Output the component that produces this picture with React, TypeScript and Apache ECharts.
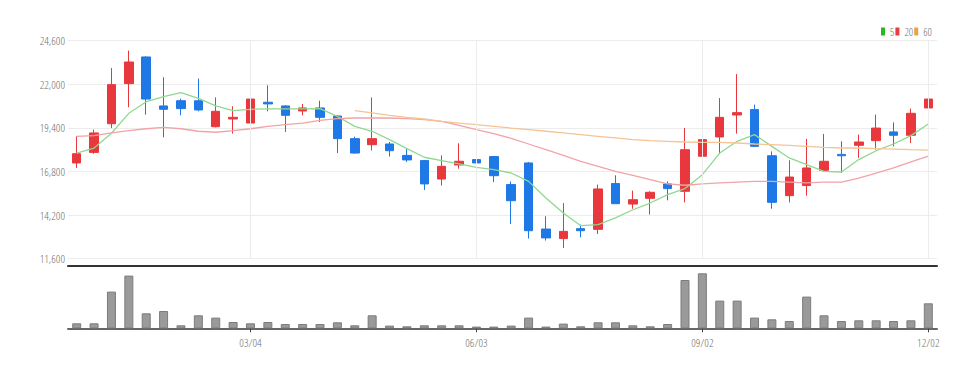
import React, { useEffect, useRef } from "react";
import * as echarts from "echarts";

const dates = [
  "12/25", "01/01", "01/08", "01/15", "01/22", "01/29", "02/05", "02/12", "02/19", "02/26",
  "03/04", "03/11", "03/18", "03/25", "04/01", "04/08", "04/15", "04/22", "04/29", "05/06",
  "05/13", "05/20", "05/27", "06/03", "06/10", "06/17", "06/24", "07/01", "07/08", "07/15",
  "07/22", "07/29", "08/05", "08/12", "08/19", "08/26", "09/02", "09/09", "09/16", "09/23",
  "09/30", "10/07", "10/14", "10/21", "10/28", "11/04", "11/11", "11/18", "11/25", "12/02",
];

// [open, close, low, high]
const candles = [
  [17310, 17860, 17010, 18900], [17940, 19100, 17860, 19300], [19650, 21980, 19390, 22970],
  [22040, 23330, 20630, 24010], [23630, 21120, 20190, 23670], [20710, 20510, 18840, 22420],
  [21020, 20550, 20150, 21140], [21020, 20470, 20390, 22340], [19470, 20390, 19430, 21220],
  [19930, 20030, 19060, 20690], [19690, 21120, 19630, 21520], [20930, 20830, 20390, 21940],
  [20710, 20150, 19160, 20750], [20410, 20590, 20150, 20830], [20590, 20030, 19750, 21020],
  [20110, 18760, 17900, 20150], [18760, 17900, 17860, 18880], [18400, 18760, 18060, 21220],
  [18440, 18040, 17690, 18560], [17760, 17490, 17370, 18200], [17450, 16060, 15700, 17490],
  [16350, 17110, 15960, 17760], [17190, 17410, 16970, 18480], [17510, 17310, 17170, 17800],
  [17690, 16550, 16170, 17730], [16020, 15060, 13670, 16210], [17310, 13270, 12800, 17370],
  [13370, 12840, 12680, 14130], [12800, 13230, 12240, 14920], [13390, 13270, 12880, 13630],
  [13350, 15760, 13070, 16020], [16080, 14880, 14880, 16570], [14860, 15120, 14580, 15660],
  [15200, 15560, 14230, 15620], [16060, 15780, 15080, 16210], [15620, 18100, 14960, 19390],
  [17710, 18700, 17450, 22140], [18860, 20030, 17900, 21180], [20170, 20310, 19060, 22610],
  [20490, 18300, 18260, 20790], [17740, 14960, 14580, 18000], [15360, 16470, 14960, 17470],
  [15960, 17010, 15360, 18740], [16870, 17410, 16810, 19040], [17820, 17740, 16710, 18600],
  [18360, 18560, 17610, 19000], [18640, 19390, 18100, 20190], [19160, 18960, 18300, 19730],
  [18960, 20270, 18500, 20550], [20590, 21120, 19990, 23610],
];

const ma5 = [
  17900, 18200, 19080, 20270, 20960, 21260, 21500, 21160, 20710, 20430,
  20510, 20530, 20530, 20540, 20550, 20090, 19490, 19200, 18700, 18160,
  17650, 17450, 17250, 17050, 16910, 16710, 16210, 15220, 14330, 13570,
  13630, 14030, 14520, 14920, 15420, 15780, 16610, 17900, 18600, 19000,
  18300, 17610, 17210, 16810, 16770, 17510, 18040, 18440, 18940, 19630,
];

const ma20 = [
  18900, 18940, 19100, 19240, 19350, 19430, 19350, 19200, 19140, 19240,
  19350, 19490, 19590, 19690, 19850, 19950, 19990, 19990, 19990, 19950,
  19890, 19790, 19550, 19300, 19060, 18780, 18440, 18100, 17760, 17410,
  17110, 16810, 16570, 16310, 16060, 15980, 16060, 16120, 16170, 16210,
  16210, 16170, 16120, 16170, 16170, 16410, 16710, 17010, 17370, 17710,
];

const ma60 = [
  null, null, null, null, null, null, null, null, null, null,
  null, null, null, null, null, null, 20430, 20290, 20150, 20030,
  19930, 19790, 19690, 19590, 19490, 19390, 19300, 19200, 19100, 19000,
  18900, 18800, 18700, 18640, 18600, 18560, 18540, 18540, 18500, 18440,
  18400, 18360, 18300, 18240, 18200, 18200, 18160, 18140, 18100, 18080,
];

const volumes = [
  100000, 100000, 734000, 1054000, 300000, 346000, 60000, 260000, 214000, 126000,
  100000, 126000, 86000, 86000, 86000, 120000, 60000, 260000, 54000, 40000,
  60000, 60000, 60000, 34000, 34000, 54000, 214000, 34000, 94000, 40000,
  120000, 120000, 60000, 40000, 86000, 966000, 1100000, 554000, 554000, 214000,
  180000, 146000, 634000, 260000, 146000, 160000, 160000, 146000, 160000, 500000,
];

const priceTicks = { min: 11600, max: 24600, interval: 2600 };
const markedDates = ["03/04", "06/03", "09/02", "12/02"];

const FONT = '"Open Sans Condensed Light", "DejaVu Sans Condensed", sans-serif';
const LABEL = "#707070";
const UP = "#e8383d";
const DOWN = "#1e78e6";

export default function App() {
  const ref = useRef<HTMLDivElement>(null);
  useEffect(() => {
    if (!ref.current) return;
    const chart = echarts.init(ref.current, undefined, { renderer: "svg" });
    const showIdx = (i: number) => i % 13 === 10;
    chart.setOption({
      animation: false,
      backgroundColor: "#ffffff",
      legend: {
        right: 42,
        top: 21,
        icon: "rect",
        itemWidth: 4,
        itemHeight: 8,
        itemGap: 1,
        textStyle: { color: LABEL, fontSize: 11, fontFamily: FONT },
        data: [
          { name: "5", itemStyle: { color: "#26b826" } },
          { name: "20", itemStyle: { color: "#e83c3c" } },
          { name: "60", itemStyle: { color: "#f0a040" } },
        ],
      },
      grid: [
        { left: 68, right: 42, top: 40.7, height: 218 },
        { left: 68, right: 42, top: 265, height: 63.3 },
      ],
      xAxis: [
        {
          type: "category",
          gridIndex: 0,
          data: dates,
          boundaryGap: true,
          offset: 7,
          axisLine: { show: true, lineStyle: { color: "#333", width: 2 } },
          axisTick: { show: false },
          axisLabel: { show: false },
          splitLine: { show: false },
        },
        {
          type: "category",
          gridIndex: 1,
          data: dates,
          boundaryGap: true,
          axisLine: { show: true, lineStyle: { color: "#666", width: 2 } },
          axisTick: {
            show: true,
            alignWithLabel: true,
            interval: (i: number) => showIdx(i),
            length: 4,
            lineStyle: { color: "#444", width: 1 },
          },
          axisLabel: {
            interval: (i: number) => showIdx(i),
            color: LABEL,
            fontSize: 11.5,
            fontFamily: FONT,
            margin: 8,
          },
          splitLine: { show: false },
        },
      ],
      yAxis: [
        {
          type: "value",
          gridIndex: 0,
          min: priceTicks.min,
          max: priceTicks.max,
          interval: priceTicks.interval,
          axisLine: { show: false },
          axisTick: { show: false },
          axisLabel: {
            color: LABEL,
            fontSize: 11.5,
            fontFamily: FONT,
            margin: 3,
            formatter: (v: number) => v.toLocaleString("en-US"),
          },
          splitLine: { show: true, lineStyle: { color: "#ececec", width: 1 } },
        },
        {
          type: "value",
          gridIndex: 1,
          min: 0,
          max: 1266000,
          show: false,
          splitLine: { show: false },
        },
      ],
      series: [
        {
          name: "candle",
          type: "candlestick",
          xAxisIndex: 0,
          yAxisIndex: 0,
          data: candles,
          barWidth: 9,
          itemStyle: {
            color: UP,
            color0: DOWN,
            borderColor: UP,
            borderColor0: DOWN,
            borderWidth: 1,
          },
          markLine: {
            silent: true,
            symbol: ["none", "none"],
            label: { show: false },
            lineStyle: { color: "#ececec", type: "solid", width: 1 },
            data: markedDates.map((d) => ({ xAxis: d })),
          },
        },
        {
          name: "5",
          type: "line",
          data: ma5,
          symbol: "none",
          lineStyle: { color: "#8fd88f", width: 1.3 },
          itemStyle: { color: "#26b826" },
        },
        {
          name: "20",
          type: "line",
          data: ma20,
          symbol: "none",
          lineStyle: { color: "#f2a3a6", width: 1.3 },
          itemStyle: { color: "#e83c3c" },
        },
        {
          name: "60",
          type: "line",
          data: ma60,
          symbol: "none",
          lineStyle: { color: "#f6c394", width: 1.3 },
          itemStyle: { color: "#f0a040" },
        },
        {
          name: "volume",
          type: "bar",
          xAxisIndex: 1,
          yAxisIndex: 1,
          data: volumes,
          barWidth: 9,
          itemStyle: { color: "#9a9a9a", borderColor: "#7c7c7c", borderWidth: 1 },
        },
      ],
    });
    return () => chart.dispose();
  }, []);
  return <div ref={ref} style={{ width: 979, height: 369, position: "absolute", left: 0, top: 0 }} />;
}
